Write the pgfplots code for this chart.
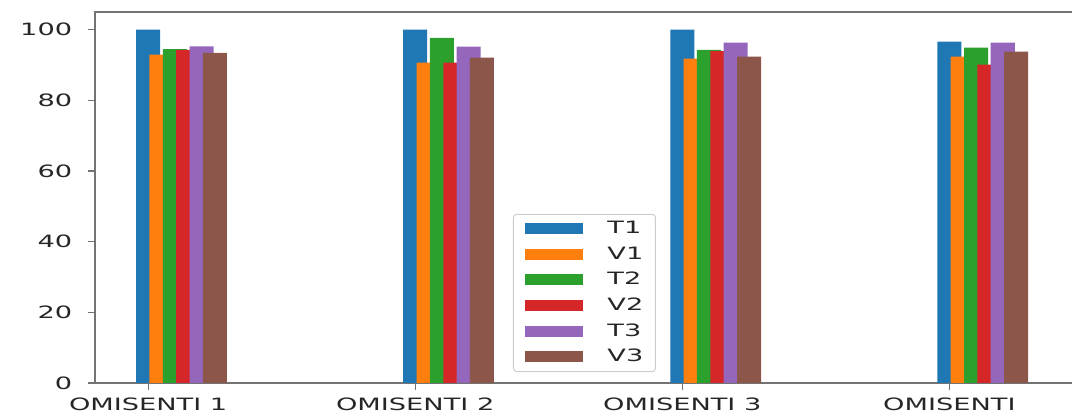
\documentclass[border=0pt]{standalone}
\usepackage{fontspec}
\setmainfont{DejaVu Sans}[FakeStretch=1.6]
\usepackage{pgfplots}
\pgfplotsset{compat=1.18}
\definecolor{c1}{HTML}{1F77B4}
\definecolor{c2}{HTML}{FF7F0E}
\definecolor{c3}{HTML}{2CA02C}
\definecolor{c4}{HTML}{D62728}
\definecolor{c5}{HTML}{9467BD}
\definecolor{c6}{HTML}{8C564B}
\begin{document}
\fontsize{17}{20}\selectfont
\begin{tikzpicture}
\useasboundingbox (-95pt,-36pt) rectangle (977pt,383pt);
\begin{axis}[
  scale only axis, width=978pt, height=371pt,
  xmin=-0.199, xmax=3.463, ymin=0, ymax=105,
  ybar, bar width=0.09,
  xtick={0,1,2,3}, xticklabels={OMISENTI 1, OMISENTI 2, OMISENTI 3, OMISENTI},
  ytick={0,20,40,60,80,100},
  tick align=outside, tick pos=left, major tick length=7pt,
  axis line style={black!55, line width=1.5pt},
  every tick/.style={black!55, line width=1.2pt},
  tick label style={font=\fontsize{17}{20}\selectfont, text=black!85},
  yticklabel style={xshift=-10pt},
  xticklabel style={yshift=-2pt},
  /pgf/number format/assume math mode=true,
  legend image code/.code={\fill[#1, sharp corners] (0pt,-5.5pt) rectangle (58pt,5.5pt); \path[draw=none, fill=none] (0pt,0pt) rectangle (82pt,0.1pt);},
  legend cell align=left,
  legend style={at={(0.4274,0.0296)}, anchor=south west, draw=black!20, line width=1pt,
    rounded corners=3pt, fill=white, inner xsep=12pt, inner ysep=7pt, row sep=10.5pt,
    font=\fontsize{17}{20}\selectfont, text=black!85, nodes={inner sep=0pt}},
]
\addplot[fill=c1, draw=none, bar shift=0] coordinates {(0,100) (1,100) (2,100) (3,96.6)};
\addplot[fill=c2, draw=none, bar shift=0.05] coordinates {(0,92.9) (1,90.7) (2,91.8) (3,92.4)};
\addplot[fill=c3, draw=none, bar shift=0.10] coordinates {(0,94.5) (1,97.7) (2,94.3) (3,94.9)};
\addplot[fill=c4, draw=none, bar shift=0.15] coordinates {(0,94.3) (1,90.7) (2,93.9) (3,90.1)};
\addplot[fill=c5, draw=none, bar shift=0.20] coordinates {(0,95.3) (1,95.2) (2,96.3) (3,96.3)};
\addplot[fill=c6, draw=none, bar shift=0.25] coordinates {(0,93.4) (1,92.1) (2,92.4) (3,93.8)};
\legend{T1,V1,T2,V2,T3,V3}
\end{axis}
\end{tikzpicture}
\end{document}
